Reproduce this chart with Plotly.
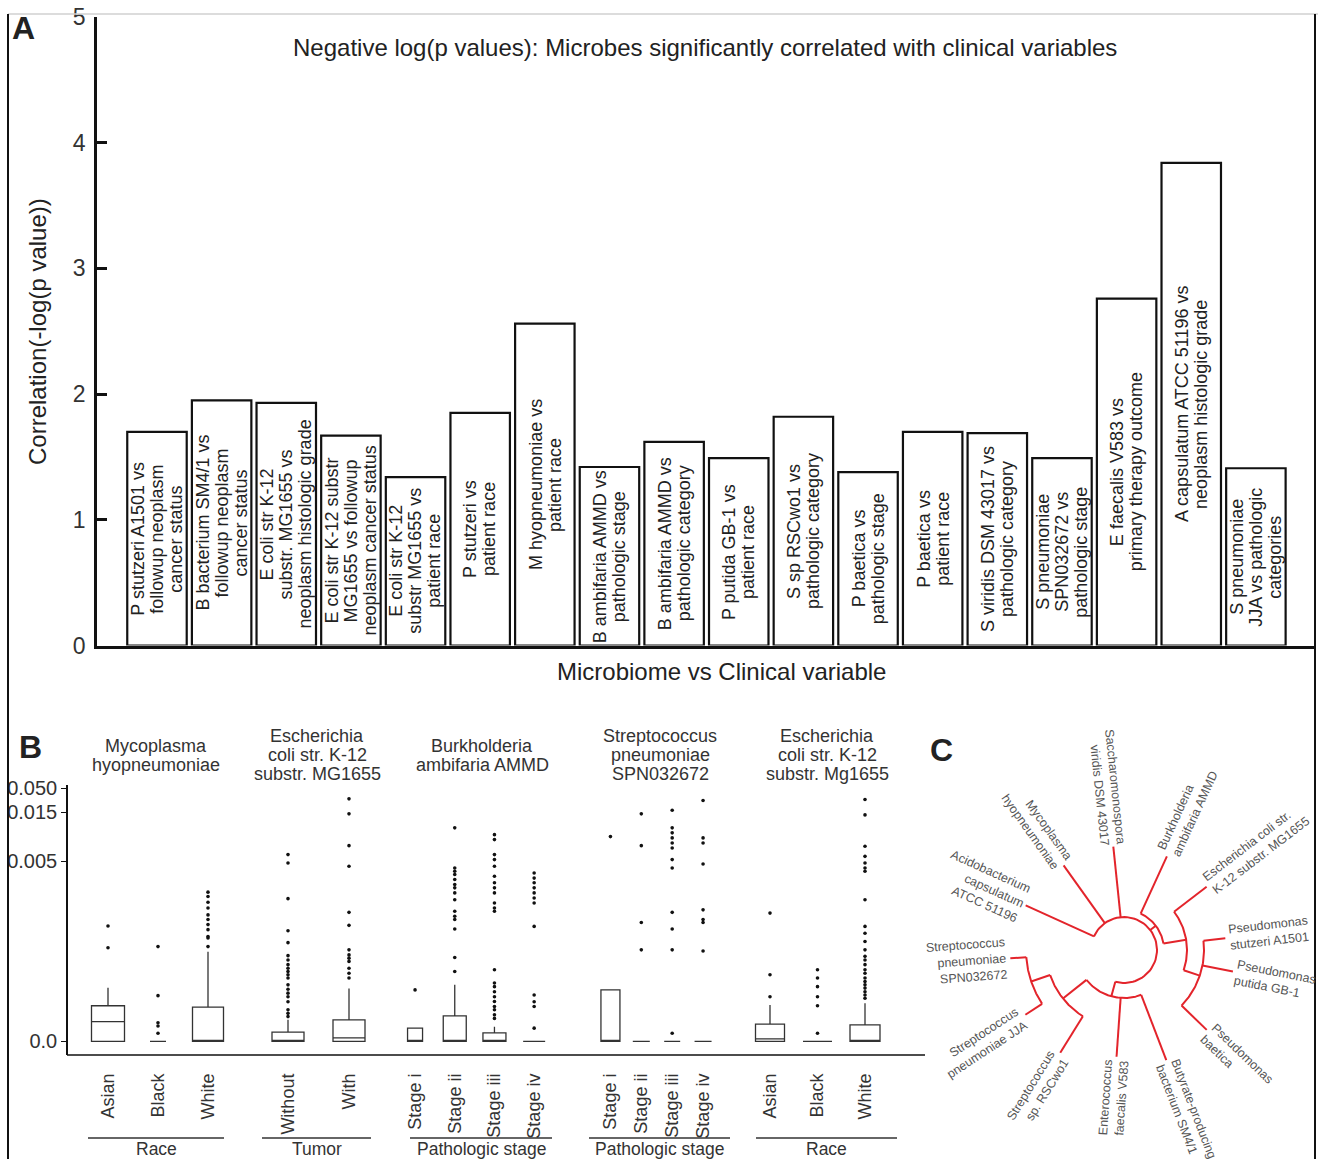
import numpy as np
import plotly.graph_objects as go

W, H = 1318, 1159
FONT = "Liberation Sans, Arial, sans-serif"


def px(x):
    return x / W


def py(y):
    return 1 - y / H


# ---------------- Panel A data ----------------
bar_labels = [
    "P stutzeri A1501 vs<br>followup neoplasm<br>cancer status",
    "B bacterium SM4/1 vs<br>followup neoplasm<br>cancer status",
    "E coli str K-12<br>substr. MG1655 vs<br>neoplasm histologic grade",
    "E coli str K-12 substr<br>MG1655 vs followup<br>neoplasm cancer status",
    "E coli str K-12<br>substr MG1655 vs<br>patient race",
    "P stutzeri vs<br>patient race",
    "M hyopneumoniae vs<br>patient race",
    "B ambifaria AMMD vs<br>pathologic stage",
    "B ambifaria AMMD vs<br>pathologic category",
    "P putida GB-1 vs<br>patient race",
    "S sp RSCwo1 vs<br>pathologic category",
    "P baetica vs<br>pathologic stage",
    "P baetica vs<br>patient race",
    "S viridis DSM 43017 vs<br>pathologic category",
    "S pneumoniae<br>SPN032672 vs<br>pathologic stage",
    "E faecalis V583 vs<br>primary therapy outcome",
    "A capsulatum ATCC 51196 vs<br>neoplasm histologic grade",
    "S pneumoniae<br>JJA vs pathologic<br>categories",
]
bar_values = [1.70, 1.95, 1.93, 1.67, 1.34, 1.85, 2.56, 1.42, 1.62, 1.49,
              1.82, 1.38, 1.70, 1.69, 1.49, 2.76, 3.84, 1.41]

# ---------------- Panel B data ----------------
facet_titles = [
    "Mycoplasma<br>hyopneumoniae",
    "Escherichia<br>coli str. K-12<br>substr. MG1655",
    "Burkholderia<br>ambifaria AMMD",
    "Streptococcus<br>pneumoniae<br>SPN032672",
    "Escherichia<br>coli str. K-12<br>substr. Mg1655",
]
facet_groups = ["Race", "Tumor", "Pathologic stage", "Pathologic stage", "Race"]
facet_cats = [
    ["Asian", "Black", "White"],
    ["Without", "With"],
    ["Stage i", "Stage ii", "Stage iii", "Stage iv"],
    ["Stage i", "Stage ii", "Stage iii", "Stage iv"],
    ["Asian", "Black", "White"],
]
box_q1 = [[0, 0, 0], [0, 0], [0, 0, 0, 0], [0, 0, 0, 0], [0, 0, 0]]
box_med = [[0.00055, 0, 0], [0, 0.0001], [0, 0, 0, 0], [0, 0, 0, 0], [0.00007, 0, 0]]
box_q3 = [[0.00099, 0, 0.00095], [0.00026, 0.0006], [0.00037, 0.00071, 0.00024, 0],
          [0.00143, 0, 0, 0], [0.00048, 0, 0.00046]]
box_hi = [[0.00149, 0, 0.00249], [0.0006, 0.00147], [0.00037, 0.00157, 0.00041, 0],
          [0.00143, 0, 0, 0], [0.00101, 0, 0.00106]]
box_out = [
    [
        [0.0026, 0.0032],
        [0.00263, 0.00127, 0.00052, 0.00043, 0.00023],
        [0.00263, 0.00287, 0.00291, 0.0031, 0.00324, 0.00338, 0.00351, 0.0037,
         0.00386, 0.00402, 0.00414],
    ],
    [
        [0.00633, 0.00495, 0.00396, 0.00307, 0.00274, 0.00238, 0.00226, 0.00213,
         0.00203, 0.00194, 0.00185, 0.00176, 0.00157, 0.00145, 0.00134, 0.00124,
         0.0011, 0.00088, 0.00078, 0.00069],
        [0.03425, 0.01463, 0.00816, 0.00486, 0.00358, 0.00322, 0.00254, 0.0024,
         0.00231, 0.00222, 0.00203, 0.00189, 0.00176],
    ],
    [
        [0.00143],
        [0.01178, 0.00481, 0.00472, 0.00463, 0.00449, 0.00435, 0.00426, 0.00412,
         0.00393, 0.00361, 0.00347, 0.00338, 0.00312, 0.00233, 0.00194],
        [0.0104, 0.00939, 0.00633, 0.00531, 0.00486, 0.00458, 0.0044, 0.00426,
         0.00412, 0.00384, 0.0037, 0.00361, 0.00199, 0.00162, 0.00152, 0.00138,
         0.00124, 0.00111, 0.00097, 0.00088, 0.00074, 0.00064],
        [0.00467, 0.00453, 0.0044, 0.00426, 0.00412, 0.00398, 0.00384, 0.00319,
         0.00129, 0.0011, 0.00097, 0.00037],
    ],
    [
        [0.0100],
        [0.01463, 0.00816, 0.0033, 0.00254],
        [0.01763, 0.01178, 0.01076, 0.00973, 0.00871, 0.00769, 0.00531, 0.00481,
         0.00358, 0.00312, 0.00254, 0.00023],
        [0.03177, 0.00973, 0.00871, 0.00492, 0.00365, 0.00338, 0.0033, 0.00251],
    ],
    [
        [0.00124, 0.00185, 0.00356],
        [0.00023, 0.00099, 0.00124, 0.00152, 0.00176, 0.00199],
        [0.03323, 0.01442, 0.00802, 0.00598, 0.00495, 0.00481, 0.00472, 0.00393,
         0.00319, 0.003, 0.00277, 0.00254, 0.00236, 0.00226, 0.00213, 0.00199,
         0.00189, 0.00176, 0.00166, 0.00157, 0.00148, 0.00138, 0.00129, 0.0012],
    ],
]
b_tick_vals = [0, 0.005, 0.015, 0.05]
b_tick_text = ["0.0", "0.005", "0.015", "0.050"]
b_tick_pos = [0, 180, 229, 253]  # display scale of the squashed axis


def ty(v):
    return np.interp(np.asarray(v, dtype=float), b_tick_vals, b_tick_pos)


# ---------------- Panel C data ----------------
c_ids = ["Aca", "Mhy", "Svi", "Bam", "Eco", "Pst", "Ppu", "Pba", "Bsm", "Efa", "Srs", "Sjj", "Ssp"]
c_labels = [
    "Acidobacterium<br>capsulatum<br>ATCC 51196",
    "Mycoplasma<br>hyopneumoniae",
    "Saccharomonospora<br>viridis DSM 43017",
    "Burkholderia<br>ambifaria AMMD",
    "Escherichia coli str.<br>K-12 substr. MG1655",
    "Pseudomonas<br>stutzeri A1501",
    "Pseudomonas<br>putida GB-1",
    "Pseudomonas<br>baetica",
    "Butyrate-producing<br>bacterium SM4/1",
    "Enterococcus<br>faecalis V583",
    "Streptococcus<br>sp. RSCwo1",
    "Streptococcus<br>pneumoniae JJA",
    "Streptococcus<br>pneumoniae<br>SPN032672",
]
c_angles = [155.6, 125.5, 95.9, 65.4, 37.4, 6.6, -11.2, -44.0, -69.0, -94.0, -121.8, -146.7, -175.8]
c_radii = [108, 104, 104, 103, 104, 102, 111, 115, 118, 107, 121, 118, 114]
c_tree = {
    "nP": (["Pst", "Ppu", "Pba"], 80),
    "nEP": (["Eco", "nP"], 63),
    "nRight": (["Bam", "nEP"], 40),
    "nSS": (["Sjj", "Ssp"], 98),
    "nStrep": (["Srs", "nSS"], 78),
    "nBottom": (["nStrep", "Efa", "Bsm"], 48),
    "root": (["Aca", "Mhy", "Svi", "nRight", "nBottom"], 33),
}

fig = go.Figure()


def add_text(x, y, text, size, color="#222", angle=0, xref="paper", yref="paper",
             xanchor="center", yanchor="middle", xshift=0, yshift=0, align="center"):
    fig.add_annotation(x=x, y=y, xref=xref, yref=yref, text=text, textangle=angle,
                       showarrow=False, xanchor=xanchor, yanchor=yanchor,
                       xshift=xshift, yshift=yshift, align=align,
                       font=dict(size=size, color=color, family=FONT))


# approximate Arial/Liberation Sans advance widths (em) for layout of rotated labels
_NARROW = set("iljI.,:;'|!")
_SEMI = set("ftr-() ")
_WIDE = set("mwMWGOQCDHNU")


def text_width(s, size):
    w = 0.0
    for ch in s:
        if ch in _NARROW:
            w += 0.25
        elif ch in _SEMI:
            w += 0.31
        elif ch in _WIDE:
            w += 0.8
        elif ch.isupper():
            w += 0.68
        else:
            w += 0.54
    return w * size


# ---------------- Panel A ----------------
xa = np.arange(len(bar_values))
fig.add_trace(go.Bar(
    x=xa, y=bar_values, width=0.92,
    marker=dict(color="white", line=dict(color="#111", width=2.2)),
    xaxis="x", yaxis="y", hoverinfo="skip", showlegend=False,
))
BAR_FS, BAR_PITCH = 18, 19
for i, (lab, v) in enumerate(zip(bar_labels, bar_values)):
    lines = lab.split("<br>")
    n = len(lines)
    for l, s in enumerate(lines):
        add_text(i, v / 2, s, BAR_FS, "#222", angle=-90, xref="x", yref="y",
                 xshift=(l - (n - 1) / 2) * BAR_PITCH)

# ---------------- Panel B ----------------
facet_dom = [(83, 233), (257.5, 379.5), (395.2, 554), (595, 718.5), (746.25, 888.75)]
box_w_px = [[33, 16, 31], [32, 32], [15, 23, 23, 22], [19, 17, 16, 17], [29, 29, 30]]
for k in range(5):
    xname = "x%d" % (k + 2)
    n = len(facet_cats[k])
    spacing = (facet_dom[k][1] - facet_dom[k][0]) / n
    for j, cat in enumerate(facet_cats[k]):
        fig.add_trace(go.Box(
            x=[cat], q1=[float(ty(box_q1[k][j]))], median=[float(ty(box_med[k][j]))],
            q3=[float(ty(box_q3[k][j]))], lowerfence=[float(ty(0))],
            upperfence=[float(ty(box_hi[k][j]))],
            width=box_w_px[k][j] / spacing, fillcolor="white",
            line=dict(color="#333", width=1.3), whiskerwidth=0,
            xaxis=xname, yaxis="y2", hoverinfo="skip", showlegend=False,
        ))
        ys = box_out[k][j]
        if ys:
            fig.add_trace(go.Scatter(
                x=[cat] * len(ys), y=ty(ys), mode="markers",
                marker=dict(size=3.6, color="#111"),
                xaxis=xname, yaxis="y2", hoverinfo="skip", showlegend=False,
            ))

# ---------------- Panel C ----------------
ang = dict(zip(c_ids, c_angles))
rad = dict(zip(c_ids, c_radii))


def node_angle(name):
    if name in ang:
        return ang[name]
    ch, _ = c_tree[name]
    a = [node_angle(c) for c in ch]
    return (min(a) + max(a)) / 2


def node_radius(name):
    return rad[name] if name in rad else c_tree[name][1]


lx, ly = [], []
for name, (ch, r) in c_tree.items():
    a_list = [node_angle(c) for c in ch]
    t = np.radians(np.linspace(min(a_list), max(a_list), 60))
    lx += list(r * np.cos(t)) + [None]
    ly += list(r * np.sin(t)) + [None]
    for c, a in zip(ch, a_list):
        rc = node_radius(c)
        t1 = np.radians(a)
        lx += [r * np.cos(t1), rc * np.cos(t1), None]
        ly += [r * np.sin(t1), rc * np.sin(t1), None]
fig.add_trace(go.Scatter(x=lx, y=ly, mode="lines", line=dict(color="#e3242b", width=2),
                         xaxis="x7", yaxis="y7", hoverinfo="skip", showlegend=False))

CFS = 12.5
for cid, lab in zip(c_ids, c_labels):
    a = ang[cid]
    lines = lab.split("<br>")
    L = max(text_width(s, CFS) for s in lines)
    rc = rad[cid] + 3 + L / 2
    an = ((a + 180) % 360) - 180
    if -90 < an <= 90:
        ta, al = -an, "left"
    else:
        ta, al = ((180 - an + 180) % 360) - 180, "right"
    add_text(rc * np.cos(np.radians(a)), rc * np.sin(np.radians(a)), lab, CFS, "#555",
             angle=ta, xref="x7", yref="y7", align=al)

# ---------------- Layout ----------------
layout = dict(
    width=W, height=H, margin=dict(l=0, r=0, t=0, b=0, autoexpand=False),
    paper_bgcolor="white", plot_bgcolor="rgba(0,0,0,0)",
    font=dict(family=FONT, color="#222"), showlegend=False,
    xaxis=dict(domain=[px(97), px(1316)], anchor="y", range=[-0.928, 17.93],
               showline=True, linecolor="#111", linewidth=2.5, showticklabels=False,
               ticks="", showgrid=False, zeroline=False, automargin=False),
    yaxis=dict(domain=[py(645.5), py(17)], anchor="x", range=[0, 5],
               showline=True, linecolor="#111", linewidth=2.5, ticks="inside",
               ticklen=10, tickwidth=2.5, tickcolor="#111", tickvals=[0, 1, 2, 3, 4, 5],
               tickfont=dict(size=23, color="#333"), showgrid=False, zeroline=False,
               ticklabelstandoff=4, automargin=False),
    yaxis2=dict(domain=[py(1055), py(785)], anchor="free", position=px(67),
                range=[-13.5, 256], showline=True, linecolor="#111", linewidth=1.5,
                ticks="outside", ticklen=5, tickwidth=1.3, tickcolor="#111",
                tickvals=list(ty(b_tick_vals)), ticktext=b_tick_text,
                tickfont=dict(size=20, color="#333"), showgrid=False, zeroline=False,
                automargin=False),
    xaxis7=dict(domain=[px(930), px(1316)], anchor="y7", range=[930 - 1124, 1316 - 1124],
                visible=False, fixedrange=True, automargin=False),
    yaxis7=dict(domain=[py(1159), py(700)], anchor="x7", range=[950 - 1159, 950 - 700],
                visible=False, fixedrange=True, automargin=False),
)
for k in range(5):
    n = len(facet_cats[k])
    layout["xaxis%d" % (k + 2)] = dict(
        domain=[px(facet_dom[k][0]), px(facet_dom[k][1])], anchor="y2",
        type="category", categoryorder="array", categoryarray=facet_cats[k],
        range=[-0.5, n - 0.5], tickangle=-90, tickfont=dict(size=18, color="#333"),
        ticks="", showline=False, showgrid=False, zeroline=False, ticklabelstandoff=14,
        automargin=False,
    )
fig.update_layout(**layout)

# Titles / texts
add_text(px(705), py(47),
         "Negative log(p values): Microbes significantly correlated with clinical variables",
         24, "#222")
add_text(px(38), py(332), "Correlation(-log(p value))", 24, "#222", angle=-90)
add_text(px(722), py(671), "Microbiome vs Clinical variable", 24, "#222")
for letter, (lx0, ly0) in zip(["A", "B", "C"], [(23, 28), (30, 747), (941, 750)]):
    add_text(px(lx0), py(ly0), "<b>%s</b>" % letter, 32, "#222")

title_x = [156, 317, 482, 660, 827]
group_span = [(88, 224), (262, 371), (410, 552), (589, 730), (756, 897)]
TPITCH = 19
for k in range(5):
    tl = facet_titles[k].split("<br>")
    n = len(tl)
    for l, s in enumerate(tl):
        add_text(px(title_x[k]), py(755 + (l - (n - 1) / 2) * TPITCH), s, 18, "#333")
    x0, x1 = group_span[k]
    fig.add_shape(type="line", xref="paper", yref="paper", x0=px(x0), x1=px(x1),
                  y0=py(1138), y1=py(1138), line=dict(color="#333", width=1.5))
    add_text(px((x0 + x1) / 2), py(1148.5), facet_groups[k], 17.5, "#333")

# Panel B bottom axis line and figure frame
fig.add_shape(type="line", xref="paper", yref="paper", x0=px(67), x1=px(925),
              y0=py(1055), y1=py(1055), line=dict(color="#111", width=1.5))
fig.add_shape(type="line", xref="paper", yref="paper", x0=px(8), x1=px(1318),
              y0=py(14), y1=py(14), line=dict(color="#d0d0d0", width=1.5))
fig.add_shape(type="line", xref="paper", yref="paper", x0=px(8), x1=px(8),
              y0=py(14), y1=0, line=dict(color="#111", width=2))
fig.add_shape(type="line", xref="paper", yref="paper", x0=px(1315), x1=px(1315),
              y0=py(14), y1=0, line=dict(color="#111", width=2))

fig.write_html("out.html", config={"displayModeBar": False},
               post_script="document.body.style.margin='0';document.body.style.overflow='hidden';")
